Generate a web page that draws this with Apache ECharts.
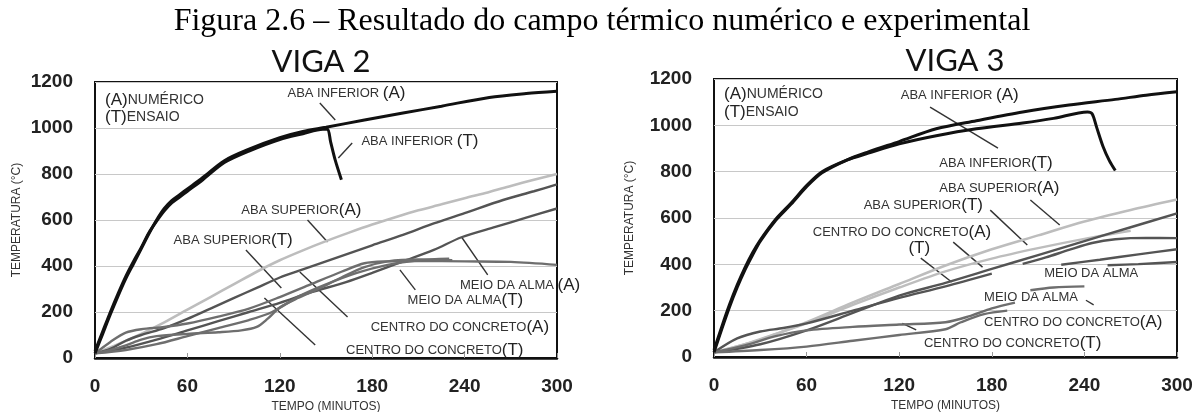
<!DOCTYPE html>
<html>
<head>
<meta charset="utf-8">
<script src="https://cdn.jsdelivr.net/npm/echarts@6.0.0/dist/echarts.min.js"></script>
<style>
  html, body { margin: 0; padding: 0; background: #ffffff; }
  #chart { width: 1204px; height: 412px; }
</style>
</head>
<body>
<div id="chart"></div>
<script>
// Axis ticks (minutes, °C)
const timeTicks = [0, 60, 120, 180, 240, 300];
const tempTicks = [0, 200, 400, 600, 800, 1000, 1200];

// ---- VIGA 2: [tempo (min), temperatura (°C)] ----
const v2AbaInfA = [[0,20],[5,105],[10,190],[15,270],[20,345],[25,410],[30,475],[35,540],[40,600],[45,650],[50,685],[55,710],[60,735],[70,785],[84,858],[100,908],[120,958],[135,985],[150,1003],[175,1035],[200,1065],[225,1095],[256,1133],[280,1150],[300,1160]];
const v2AbaInfT = [[0,30],[5,115],[10,200],[15,280],[20,355],[25,420],[30,480],[35,545],[40,595],[45,640],[50,675],[55,700],[60,725],[70,775],[84,850],[100,900],[120,950],[135,975],[148,995],[151,995],[153,940],[156,860],[160,775]];
const v2AbaSupA = [[0,20],[15,60],[30,105],[45,155],[60,210],[75,265],[90,320],[105,375],[120,425],[135,468],[150,508],[165,545],[180,580],[195,612],[210,642],[225,668],[240,695],[255,720],[270,748],[285,775],[300,800]];
const v2AbaSupT = [[0,20],[10,40],[20,75],[30,100],[45,130],[60,170],[75,215],[90,260],[105,305],[120,350],[135,385],[150,420],[165,455],[180,490],[200,535],[220,585],[240,630],[265,687],[285,725],[300,755]];
const v2MeioA = [[0,20],[20,45],[40,80],[60,120],[80,160],[100,200],[120,240],[140,285],[163,330],[180,370],[200,420],[220,470],[238,525],[260,570],[280,610],[300,650]];
const v2MeioT = [[0,20],[10,70],[20,110],[30,125],[45,135],[60,150],[80,180],[100,215],[120,265],[140,320],[160,375],[175,412],[190,420],[210,422],[240,420],[270,418],[300,405]];
const v2CentroA = [[0,20],[20,35],[40,60],[60,95],[80,130],[100,165],[115,200],[133,270],[150,320],[170,370],[190,405],[210,425],[230,432]];
const v2CentroT = [[0,20],[10,35],[20,55],[30,80],[40,95],[60,105],[80,112],[95,120],[105,135],[112,170],[120,220],[130,255],[145,300],[160,350],[175,395],[190,420],[210,428],[232,425]];

// ---- VIGA 3 ----
const v3AbaInfA = [[0,20],[5,120],[10,215],[15,300],[20,375],[25,440],[30,500],[40,590],[50,660],[60,735],[70,795],[86,850],[100,885],[120,930],[144,985],[170,1020],[200,1058],[230,1088],[260,1112],[280,1130],[300,1145]];
const v3AbaInfT = [[0,30],[5,130],[10,225],[15,310],[20,385],[25,450],[30,505],[40,595],[50,665],[60,740],[70,800],[86,850],[100,880],[120,920],[144,955],[170,985],[200,1010],[220,1030],[242,1058],[245,1050],[248,990],[252,910],[256,850],[260,805]];
const v3AbaSupA = [[0,20],[30,75],[60,150],[90,235],[120,315],[150,395],[180,465],[210,525],[240,585],[270,635],[300,680]];
const v3AbaSupT = [[0,20],[20,55],[40,100],[60,145],[90,225],[120,300],[150,370],[180,425],[210,470],[240,510],[270,545]];
const v3CentroA = [[0,20],[30,55],[60,115],[90,190],[120,265],[150,320],[180,380],[210,440],[240,500],[270,560],[300,620]];
const v3CentroT = [[0,20],[15,80],[30,110],[45,125],[60,145],[90,200],[120,255],[150,305],[180,360]];
const v3MeioA = [[0,20],[20,50],[40,90],[60,115],[90,130],[120,140],[150,150],[165,175],[180,210],[195,235]];
const v3MeioT = [[0,20],[30,30],[60,45],[90,70],[120,95],[150,120],[160,150],[175,185],[190,200]];
const v3MeioA2 = [[200,402],[215,430],[230,462],[245,492],[260,508],[280,514],[300,513]];
const v3MeioT2 = [[225,398],[250,420],[275,443],[300,465]];
const v3CentroA2 = [[255,396],[275,401],[300,410]];
const v3CentroT2 = [[205,288],[220,300],[240,305]];

// Callout texts: anchor [t, T] and leader segment in data units
const v2Notes = [
  { a: 'ABA INFERIOR ', b: '(A)', at: [125, 1152], leader: [[146, 1109], [156, 1035]] },
  { a: 'ABA INFERIOR ', b: '(T)', at: [173, 943], leader: [[167, 935], [158, 870]] },
  { a: 'ABA SUPERIOR', b: '(A)', at: [95, 643], leader: [[138, 600], [151, 504]] },
  { a: 'ABA SUPERIOR', b: '(T)', at: [51, 513], leader: [[98, 470], [121, 304]] },
  { a: 'MEIO DA ALMA ', b: '(A)', at: [237, 317], leader: [[255, 361], [238, 526]] },
  { a: 'MEIO DA ALMA', b: '(T)', at: [203, 252], leader: [[208, 296], [198, 383]] },
  { a: 'CENTRO DO CONCRETO', b: '(A)', at: [179, 135], leader: [[164, 178], [133, 374]] },
  { a: 'CENTRO DO CONCRETO', b: '(T)', at: [163, 35], leader: [[143, 57], [110, 261]] }
];
const v3Notes = [
  { a: 'ABA INFERIOR ', b: '(A)', at: [121, 1131], leader: [[140, 1079], [184, 902]] },
  { a: 'ABA INFERIOR', b: '(T)', at: [146, 837], leader: null },
  { a: 'ABA SUPERIOR', b: '(A)', at: [146, 729], leader: [[205, 678], [224, 570]] },
  { a: 'ABA SUPERIOR', b: '(T)', at: [97, 656], leader: [[179, 634], [203, 483]] },
  { a: 'CENTRO DO CONCRETO', b: '(A)', at: [64, 539], leader: [[155, 496], [174, 388]] },
  { a: '', b: '(T)', at: [126, 470], leader: [[134, 427], [154, 324]] },
  { a: 'MEIO DA ALMA', b: '', at: [214, 362], leader: null },
  { a: 'MEIO DA ALMA', b: '', at: [175, 259], leader: [[241, 245], [246, 225]] },
  { a: 'CENTRO DO CONCRETO', b: '(A)', at: [175, 151], leader: null },
  { a: 'CENTRO DO CONCRETO', b: '(T)', at: [136, 60], leader: [[131, 117], [122, 145]] }
];
// Key in the top-left corner of each plot: [t, T] of each row
const keyRows = [
  [['(A)', 'NUMÉRICO', [0, 1122]], ['(T)', 'ENSAIO', [0, 1048]]],
  [['(A)', 'NUMÉRICO', [0, 1135]], ['(T)', 'ENSAIO', [0, 1057]]]
];

const BLACK = '#111111', LIGHT = '#bdbdbd', MID = '#6e6e6e', DARK = '#545454';

const seriesDefs = [
  [v2AbaSupA, LIGHT, 2.6, 0], [v2AbaSupT, DARK, 2.4, 0], [v2MeioA, DARK, 2.4, 0],
  [v2MeioT, MID, 2.4, 0], [v2CentroA, MID, 2.4, 0], [v2CentroT, MID, 2.4, 0],
  [v2AbaInfA, BLACK, 3, 0], [v2AbaInfT, BLACK, 3, 0],
  [v3AbaSupA, LIGHT, 2.6, 1], [v3AbaSupT, LIGHT, 2.4, 1], [v3CentroA, DARK, 2.4, 1],
  [v3CentroT, DARK, 2.4, 1], [v3MeioA, MID, 2.4, 1], [v3MeioT, MID, 2.4, 1],
  [v3MeioA2, DARK, 2.4, 1], [v3MeioT2, DARK, 2.4, 1], [v3CentroA2, DARK, 2.4, 1], [v3CentroT2, MID, 2.4, 1],
  [v3AbaInfA, BLACK, 3, 1], [v3AbaInfT, BLACK, 3, 1]
];

const FONT = '"Liberation Sans", Arial, sans-serif';

function xAxisFor(i) {
  return {
    gridIndex: i, type: 'value', min: 0, max: 300, interval: 60,
    name: 'TEMPO (MINUTOS)', nameLocation: 'middle', nameGap: 41,
    nameTextStyle: { fontFamily: FONT, fontSize: 12, color: '#333' },
    axisLine: { lineStyle: { color: '#111', width: 2.5 } },
    axisTick: { inside: true, length: 5, lineStyle: { color: '#999' } },
    axisLabel: { fontFamily: FONT, fontSize: 19, fontWeight: 'bold', color: '#222', margin: 19,
      formatter: v => (timeTicks.indexOf(v) >= 0 ? String(v) : '') },
    splitLine: { show: false }
  };
}
function yAxisFor(i) {
  return {
    gridIndex: i, type: 'value', min: 0, max: 1200, interval: 200,
    name: 'TEMPERATURA (°C)', nameLocation: 'middle', nameGap: 72, nameRotate: 90,
    nameTextStyle: { fontFamily: FONT, fontSize: 12, color: '#333' },
    axisLine: { show: false }, axisTick: { show: false },
    axisLabel: { fontFamily: FONT, fontSize: 19, fontWeight: 'bold', color: '#222', margin: 22,
      formatter: v => (tempTicks.indexOf(v) >= 0 ? String(v) : '') },
    splitLine: { lineStyle: { color: '#c8c8c8', width: 1.2 } }
  };
}

const chart = echarts.init(document.getElementById('chart'), null, { renderer: 'canvas' });

chart.setOption({
  backgroundColor: '#ffffff',
  animation: false,
  title: [
    { text: 'Figura 2.6 – Resultado do campo térmico numérico e experimental', left: 'center', top: 1,
      textStyle: { fontFamily: '"Liberation Serif", "Times New Roman", serif', fontSize: 32, fontWeight: 'normal', color: '#000' } },
    { text: 'VIGA 2', left: 316, textAlign: 'center', top: 41,
      textStyle: { fontFamily: 'Lato, "Liberation Sans", sans-serif', fontSize: 31, fontWeight: 'normal', color: '#111' } },
    { text: 'VIGA 3', left: 950, textAlign: 'center', top: 40,
      textStyle: { fontFamily: 'Lato, "Liberation Sans", sans-serif', fontSize: 31, fontWeight: 'normal', color: '#111' } }
  ],
  grid: [
    { left: 95, right: 647, top: 82, bottom: 54, outerBoundsMode: 'none', containLabel: false,
      show: true, borderColor: '#111', borderWidth: 2, backgroundColor: 'transparent' },
    { left: 714, right: 27, top: 79, bottom: 55, outerBoundsMode: 'none', containLabel: false,
      show: true, borderColor: '#111', borderWidth: 2, backgroundColor: 'transparent' }
  ],
  xAxis: [xAxisFor(0), xAxisFor(1)],
  yAxis: [yAxisFor(0), Object.assign(yAxisFor(1), { nameGap: 78 })],
  series: seriesDefs.map(([data, color, width, g]) => ({
    type: 'line', xAxisIndex: g, yAxisIndex: g, data: data,
    showSymbol: false, smooth: 0.3, clip: false,
    lineStyle: { color: color, width: width }
  }))
});

const RICH = {
  a: { fontFamily: FONT, fontSize: 13, fill: '#333' },
  b: { fontFamily: FONT, fontSize: 17, fill: '#222' },
  k: { fontFamily: FONT, fontSize: 14, fill: '#333' }
};

// Callouts placed through the axes' own coordinate conversion
function notesGraphic(notes, g) {
  const out = [];
  notes.forEach(n => {
    const p = chart.convertToPixel({ gridIndex: g }, n.at);
    out.push({
      type: 'text', x: p[0], y: p[1], silent: true,
      style: {
        text: (n.a ? '{a|' + n.a + '}' : '') + (n.b ? '{b|' + n.b + '}' : ''),
        verticalAlign: 'middle', align: 'left', rich: RICH
      }
    });
    if (n.leader) {
      const p1 = chart.convertToPixel({ gridIndex: g }, n.leader[0]);
      const p2 = chart.convertToPixel({ gridIndex: g }, n.leader[1]);
      out.push({ type: 'line', silent: true,
        shape: { x1: p1[0], y1: p1[1], x2: p2[0], y2: p2[1] },
        style: { stroke: '#333', lineWidth: 1.4 } });
    }
  });
  keyRows[g].forEach(k => {
    const p = chart.convertToPixel({ gridIndex: g }, k[2]);
    out.push({ type: 'text', x: p[0] + 10, y: p[1], silent: true,
      style: { text: '{b|' + k[0] + '}{k|' + k[1] + '}', verticalAlign: 'middle', rich: RICH } });
  });
  return out;
}

chart.setOption({ graphic: notesGraphic(v2Notes, 0).concat(notesGraphic(v3Notes, 1)) });
</script>
</body>
</html>
